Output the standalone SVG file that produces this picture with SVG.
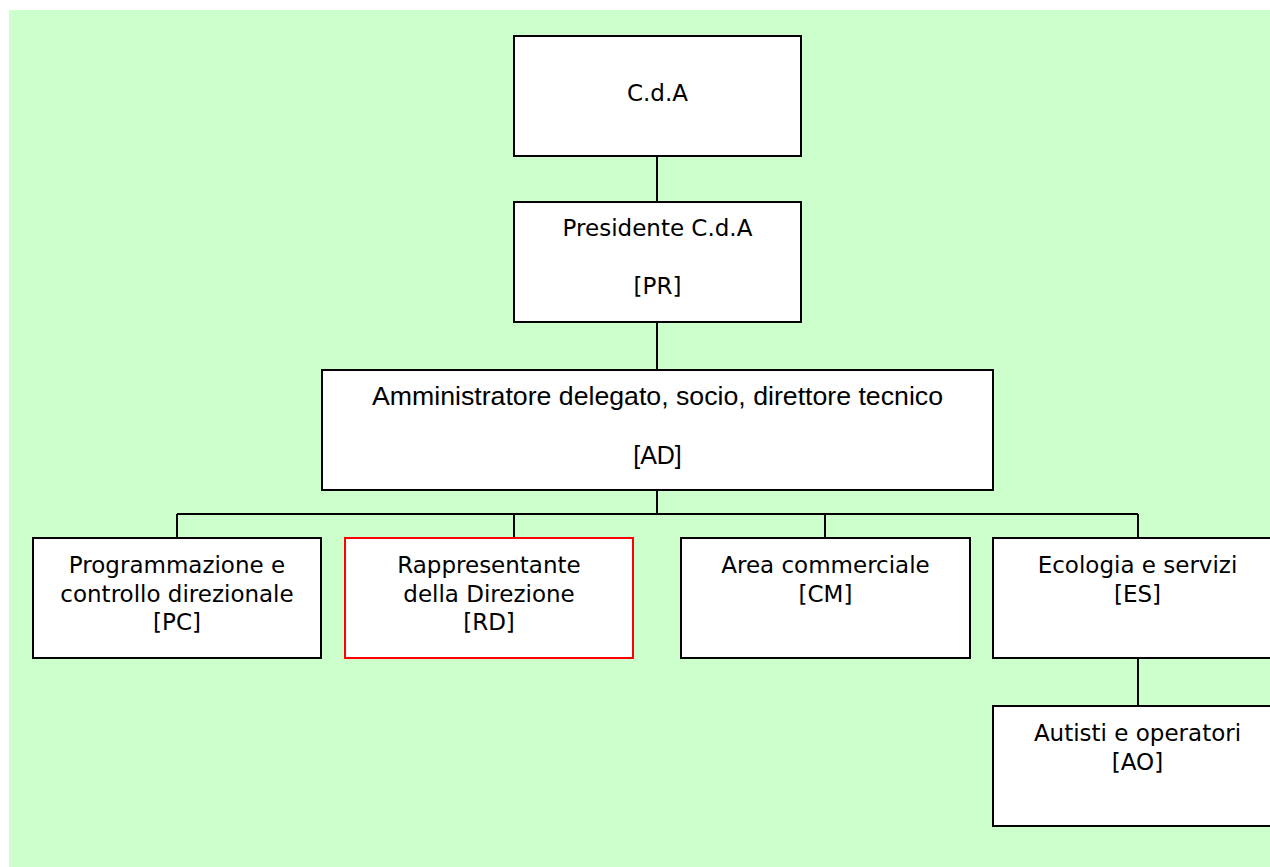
<svg xmlns="http://www.w3.org/2000/svg" width="1270" height="867" viewBox="0 0 1270 867">
<style>
.box{fill:#ffffff;stroke:#000000;stroke-width:2}
.red{fill:#ffffff;stroke:#ff0000;stroke-width:2}
.t{font-family:"DejaVu Sans","Verdana",sans-serif;font-size:23px;fill:#000000;text-anchor:middle}
.n{font-family:"Liberation Sans","Arial",sans-serif;font-size:25px;fill:#000000;text-anchor:middle}
.c{fill:none;stroke:#000000;stroke-width:2}
</style>
<rect x="9" y="10" width="1261" height="857" fill="#ccffcc"/>
<g id="connectors">
<path class="c" d="M657 156V202M657 322V370M657 490V514M177 514H1138M177 514V538M514 514V538M825 514V538M1138 514V538M1138 658V706"/>
</g>
<g id="cda">
<rect class="box" x="514" y="36" width="287" height="120"/>
<text class="t" x="657.5" y="101">C.d.A</text>
</g>
<g id="pr">
<rect class="box" x="514" y="202" width="287" height="120"/>
<text class="t" x="657.5" y="236">Presidente C.d.A</text>
<text class="t" x="657.5" y="294">[PR]</text>
</g>
<g id="ad">
<rect class="box" x="322" y="370" width="671" height="120"/>
<text class="n" x="657.5" y="405" textLength="571" lengthAdjust="spacingAndGlyphs">Amministratore delegato, socio, direttore tecnico</text>
<text class="n" x="657.5" y="464">[AD]</text>
</g>
<g id="pc">
<rect class="box" x="33" y="538" width="288" height="120"/>
<text class="t" x="177" y="573">Programmazione e</text>
<text class="t" x="177" y="602">controllo direzionale</text>
<text class="t" x="177" y="630">[PC]</text>
</g>
<g id="rd">
<rect class="red" x="345" y="538" width="288" height="120"/>
<text class="t" x="489" y="573">Rappresentante</text>
<text class="t" x="489" y="602">della Direzione</text>
<text class="t" x="489" y="630">[RD]</text>
</g>
<g id="cm">
<rect class="box" x="681" y="538" width="289" height="120"/>
<text class="t" x="825.5" y="573">Area commerciale</text>
<text class="t" x="825.5" y="602">[CM]</text>
</g>
<g id="es">
<rect class="box" x="993" y="538" width="290" height="120"/>
<text class="t" x="1137.5" y="573">Ecologia e servizi</text>
<text class="t" x="1137.5" y="602">[ES]</text>
</g>
<g id="ao">
<rect class="box" x="993" y="706" width="290" height="120"/>
<text class="t" x="1137.5" y="741">Autisti e operatori</text>
<text class="t" x="1137.5" y="770">[AO]</text>
</g>
</svg>
